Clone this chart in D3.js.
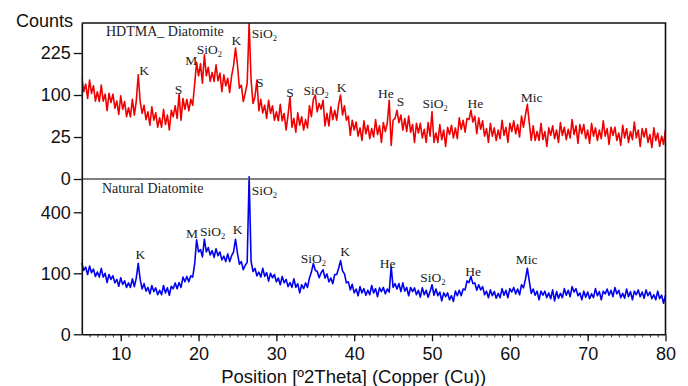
<!DOCTYPE html>
<html>
<head>
<meta charset="utf-8">
<script src="https://cdn.jsdelivr.net/npm/d3@7"></script>
<style>
  html, body { margin: 0; padding: 0; background: #fff; }
  svg { display: block; }
  .tick text { font-family: "Liberation Sans", Arial, sans-serif; font-size: 18px; fill: #111; }
  .peak-label, .panel-title { font-family: "Liberation Serif", "Times New Roman", serif; fill: #222; }
</style>
</head>
<body>
<div id="chart"></div>
<script>
// XRD patterns, 2θ scan 5–80°, step 0.25°
const scanStart = 5;
const scanStep = 0.25;

const hdtmaCounts = [
  146,108,128,92, 139,104,123,86, 108,85,125,86, 102,66,104,83,
  102,71,86,59, 98,69,85,55, 72,55,90,58, 86,154,85,61,
  77,50,64,41, 74,49,62,38, 53,38,69,42, 58,34,67,55,
  76,52,102,49, 92,69,90,66, 90,77,128,193, 151,188,130,219,
  151,177,135,161, 135,185,137,159, 108,154,123,144, 106,151,182,243,
  185,117,125,85, 104,130,346,139, 81,96,139,66, 90,62,77,52,
  88,61,76,49, 64,48,79,48, 61,34,58,96, 38,52,31,62,
  41,55,34,50, 37,76,55,90, 100,64,81,69, 88,40,61,40,
  74,50,67,49, 79,100,58,76, 49,56,27,49, 34,46,26,37,
  21,48,29,41, 23,36,25,50, 28,40,19,45, 32,44,88,16,
  49,52,67,45, 58,34,52,32, 56,31,42,19, 44,30,44,24,
  35,19,45,26, 64,19,30,19, 42,22,34,15, 38,28,41,24,
  37,23,53,35, 49,31,52,50, 67,46,56,29, 53,35,48,26,
  36,19,44,26, 37,21,34,23, 49,27,38,19, 44,32,48,29,
  42,25,56,38, 58,79,44,21, 40,21,32,21, 44,22,32,15,
  37,27,40,23, 34,19,45,27, 38,22,35,24, 50,28,40,18,
  42,29,42,23, 34,18,44,26, 37,21,34,23, 48,26,36,17,
  38,27,38,21, 30,16,41,24, 36,19,32,22, 46,24,34,15,
  36,25,36,19, 28,14,37,21, 30,15,26,17, 35
];

const naturalCounts = [
  137,110,121,96, 125,102,114,90, 104,88,117,88, 100,72,96,81,
  92,71,81,62, 86,67,77,59, 71,59,83,61, 85,135,81,55,
  69,50,59,44, 64,49,58,42, 52,42,64,46, 58,41,62,56,
  71,56,72,59, 88,74,90,74, 92,88,132,240, 182,193,161,243,
  182,202,169,188, 159,196,166,182, 149,164,142,174, 142,166,182,243,
  177,132,142,112, 128,139,667,144, 106,117,92,104, 88,117,90,102,
  76,100,86,96, 74,85,66,90, 71,81,61,72, 59,83,59,69,
  46,66,56,71, 59,85,104,135, 110,106,86,102, 112,85,98,74,
  85,69,96,96, 117,146,108,98, 71,74,53,67, 46,55,40,61,
  46,56,41,52, 42,64,46,56, 38,58,49,59, 44,55,48,123,
  59,69,55,69, 49,71,50,59, 40,59,49,58, 42,52,37,58,
  42,52,37,49, 66,41,55,40, 48,30,46,38, 46,32,40,29,
  50,40,52,40, 55,53,77,72, 90,69,71,52, 66,53,61,42,
  50,36,53,40, 49,35,45,36, 56,41,52,36, 56,48,59,44,
  55,42,66,58, 81,117,76,45, 55,41,50,32, 50,41,50,36,
  46,34,53,30, 49,35,45,36, 56,41,52,38, 61,48,56,40,
  46,32,50,37, 48,34,44,36, 56,40,49,32, 50,44,55,41,
  52,38,59,44, 52,36,45,35, 55,38,49,32, 50,42,53,38,
  48,35,53,40, 48,34,42,32, 50,34,41,26, 41
];

// peak labels: phase, 2θ, count where the label sits
const hdtmaPeakNames = ["K", "M", "SiO2", "K", "SiO2", "S", "S", "S", "SiO2", "K", "He", "S", "SiO2", "He", "Mic"];
const hdtmaPeakTheta = [13.0, 19.07, 21.4, 24.86, 28.46, 17.44, 27.88, 31.74, 35.1, 38.37, 44.06, 45.96, 50.4, 55.57, 62.81];
const hdtmaPeakCounts = [153, 184, 220, 254, 281, 102, 120, 95, 100, 108, 92, 76, 71, 71, 85];

const naturalPeakNames = ["K", "M", "SiO2", "K", "SiO2", "SiO2", "K", "He", "SiO2", "He", "Mic"];
const naturalPeakTheta = [12.52, 19.17, 21.8, 25.02, 28.46, 34.76, 38.85, 44.31, 50.1, 55.28, 62.15];
const naturalPeakCounts = [151, 251, 260, 269, 522, 135, 165, 117, 74, 91, 132];

const xTicks = [10, 20, 30, 40, 50, 60, 70, 80];
const xMinorTicks = d3.range(6, 80);
const hdtmaTicks = [0, 25, 100, 225];
const naturalTicks = [0, 100, 400];

const width = 688;
const height = 386;
const plotLeft = 81.8;
const plotRight = 665.5;
const plotTop = 23;
const panelSplit = 179;
const plotBottom = 334.3;

const twoTheta = d3.range(hdtmaCounts.length).map((i) => scanStart + i * scanStep);

const svg = d3
  .select("#chart")
  .append("svg")
  .attr("width", width)
  .attr("height", height)
  .attr("viewBox", `0 0 ${width} ${height}`);

const x = d3.scaleLinear().domain([5, 80]).range([plotLeft, plotRight]);
const yTop = d3.scaleSqrt().domain([0, 345]).range([panelSplit, plotTop]);
const yBottom = d3.scaleSqrt().domain([0, 648]).range([plotBottom, panelSplit]);

svg.append("clipPath").attr("id", "clipTop")
  .append("rect")
  .attr("x", plotLeft).attr("y", plotTop)
  .attr("width", plotRight - plotLeft).attr("height", panelSplit - plotTop);

/* ---------- Traces ---------- */
const lineTop = d3.line().x((d, i) => x(twoTheta[i])).y((d) => yTop(d));
const lineBottom = d3.line().x((d, i) => x(twoTheta[i])).y((d) => yBottom(d));

svg.append("path")
  .datum(hdtmaCounts)
  .attr("clip-path", "url(#clipTop)")
  .attr("fill", "none")
  .attr("stroke", "#f00000")
  .attr("stroke-width", 1.6)
  .attr("stroke-linejoin", "round")
  .attr("d", lineTop);

svg.append("path")
  .datum(naturalCounts)
  .attr("fill", "none")
  .attr("stroke", "#0000f0")
  .attr("stroke-width", 1.6)
  .attr("stroke-linejoin", "round")
  .attr("d", lineBottom);

/* ---------- Frame ---------- */
svg.append("line")
  .attr("x1", plotLeft).attr("x2", plotRight)
  .attr("y1", panelSplit).attr("y2", panelSplit)
  .attr("stroke", "#555").attr("stroke-width", 1.3);

svg.append("path")
  .attr("d", `M${plotLeft},${plotTop}H${plotRight}V${plotBottom}`)
  .attr("fill", "none")
  .attr("stroke", "#111")
  .attr("stroke-width", 1.6);

/* ---------- Axes ---------- */
const styleAxis = (g) => {
  g.selectAll(".domain").attr("stroke", "#111").attr("stroke-width", 1.6);
  g.selectAll(".tick line").attr("stroke", "#111").attr("stroke-width", 1.3);
};

svg.append("g")
  .attr("transform", `translate(0,${plotBottom})`)
  .call(d3.axisBottom(x).tickValues(xMinorTicks).tickSize(3).tickFormat(""))
  .call((g) => g.select(".domain").remove())
  .call((g) => g.selectAll(".tick line").attr("stroke", "#333").attr("stroke-width", 1));

svg.append("g")
  .attr("transform", `translate(0,${plotBottom})`)
  .call(d3.axisBottom(x).tickValues(xTicks).tickSize(7).tickPadding(6).tickSizeOuter(0))
  .call(styleAxis);

svg.append("g")
  .attr("transform", `translate(${plotLeft},0)`)
  .call(d3.axisLeft(yTop).tickValues(hdtmaTicks).tickSize(8).tickPadding(3).tickSizeOuter(0))
  .call(styleAxis);

svg.append("g")
  .attr("transform", `translate(${plotLeft},0)`)
  .call(d3.axisLeft(yBottom).tickValues(naturalTicks).tickSize(8).tickPadding(3).tickSizeOuter(0))
  .call(styleAxis);

svg.append("text")
  .attr("x", 16)
  .attr("y", 27)
  .attr("font-family", '"Liberation Sans", Arial, sans-serif')
  .attr("font-size", 18)
  .attr("fill", "#111")
  .text("Counts");

svg.append("text")
  .attr("x", (plotLeft + plotRight) / 2 - 20)
  .attr("y", 383)
  .attr("text-anchor", "middle")
  .attr("font-family", '"Liberation Sans", Arial, sans-serif')
  .attr("font-size", 18.5)
  .attr("fill", "#111")
  .text("Position [º2Theta] (Copper (Cu))");

/* ---------- Panel titles ---------- */
svg.append("text").attr("class", "panel-title")
  .attr("x", 106).attr("y", 36).attr("font-size", 14)
  .text("HDTMA_ Diatomite");

svg.append("text").attr("class", "panel-title")
  .attr("x", 102).attr("y", 192.5).attr("font-size", 14)
  .text("Natural Diatomite");

/* ---------- Peak labels ---------- */
function drawPeakLabels(names, thetas, counts, yScale) {
  names.forEach((name, i) => {
    const t = svg.append("text")
      .attr("class", "peak-label")
      .attr("x", x(thetas[i]))
      .attr("y", yScale(counts[i]))
      .attr("text-anchor", "middle")
      .attr("font-size", 13.5);
    if (name === "SiO2") {
      t.append("tspan").text("SiO");
      t.append("tspan").attr("font-size", 8.5).attr("dy", 3).text("2");
    } else {
      t.text(name);
    }
  });
}

drawPeakLabels(hdtmaPeakNames, hdtmaPeakTheta, hdtmaPeakCounts, yTop);
drawPeakLabels(naturalPeakNames, naturalPeakTheta, naturalPeakCounts, yBottom);
</script>
</body>
</html>
